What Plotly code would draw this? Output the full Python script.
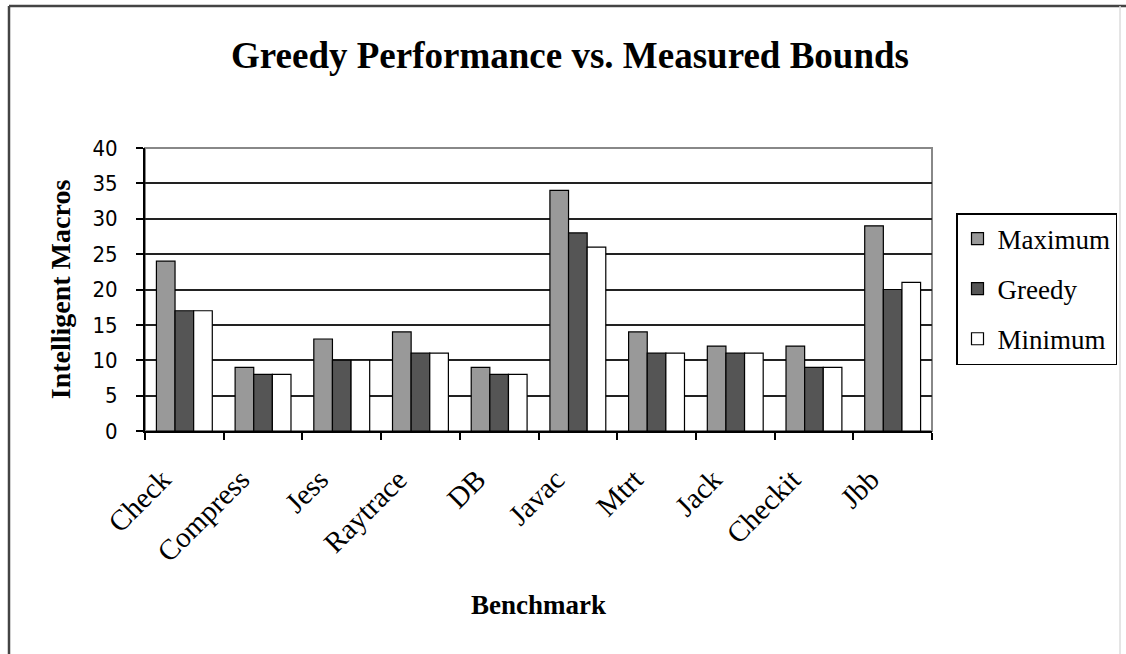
import plotly.graph_objects as go

categories = ["Check", "Compress", "Jess", "Raytrace", "DB", "Javac", "Mtrt", "Jack", "Checkit", "Jbb"]
maximum = [24, 9, 13, 14, 9, 34, 14, 12, 12, 29]
greedy = [17, 8, 10, 11, 8, 28, 11, 11, 9, 20]
minimum = [17, 8, 10, 11, 8, 26, 11, 11, 9, 21]
y_ticks = [0, 5, 10, 15, 20, 25, 30, 35, 40]

W, H = 1126, 654
L, R, T, B = 145, 194, 148, 223
pw, ph = W - L - R, H - T - B

serif = "Liberation Serif, Times New Roman, serif"
sans = "DejaVu Sans Condensed, DejaVu Sans, Arial, sans-serif"

fig = go.Figure()
series = [("Maximum", maximum, "#999999"), ("Greedy", greedy, "#555555"), ("Minimum", minimum, "#ffffff")]
for name, vals, col in series:
    fig.add_trace(go.Bar(
        x=categories, y=vals, name=name, legendgroup=name,
        marker=dict(color=col, line=dict(color="#000000", width=1.2)),
    ))

def px_x(p):
    return (p - L) / pw

def px_y(p):
    return (H - B - p) / ph

fig.update_layout(
    width=W, height=H,
    margin=dict(l=L, r=R, t=T, b=B, autoexpand=False),
    paper_bgcolor="white", plot_bgcolor="white",
    barmode="group", bargap=0.29, bargroupgap=0,
    title=dict(text="<b>Greedy Performance vs. Measured Bounds</b>",
               x=570 / W, xanchor="center", y=1 - 55 / H, yanchor="middle",
               font=dict(family=serif, size=37, color="#000000")),
    legend=dict(x=px_x(956), xanchor="left", y=px_y(213), yanchor="top",
                bordercolor="#000000", borderwidth=1.5, bgcolor="white",
                font=dict(family=serif, size=27, color="#000000"),
                tracegroupgap=12, itemwidth=30),
    xaxis=dict(
        showline=True, linecolor="#000000", linewidth=2,
        ticks="outside", tickson="boundaries", ticklen=7, tickcolor="#000000", tickwidth=2,
        tickangle=-45, tickfont=dict(family=serif, size=29, color="#000000"),
        ticklabelstandoff=18, ticklabelshift=-22,
        title=dict(text="<b>Benchmark</b>", font=dict(family=serif, size=27, color="#000000"), standoff=28),
        showgrid=False,
    ),
    yaxis=dict(
        range=[0, 40], tickvals=y_ticks, ticktext=[str(v) for v in y_ticks],
        showline=True, linecolor="#000000", linewidth=2,
        ticks="outside", ticklen=7, tickcolor="#000000", tickwidth=2,
        tickfont=dict(family=sans, size=22, color="#000000"),
        ticklabelstandoff=14,
        showgrid=True, gridcolor="#222222", gridwidth=2,
        title=dict(text="<b>Intelligent Macros</b>", font=dict(family=serif, size=28, color="#000000"), standoff=14),
        zeroline=False,
    ),
    shapes=[
        dict(type="rect", xref="paper", yref="paper", x0=0, x1=1, y0=0, y1=1,
             line=dict(color="#888888", width=2), layer="below"),
        dict(type="line", xref="paper", yref="paper", x0=px_x(9), x1=px_x(1126), y0=px_y(6), y1=px_y(6),
             line=dict(color="#444444", width=2.5)),
        dict(type="line", xref="paper", yref="paper", x0=px_x(9), x1=px_x(9), y0=px_y(6), y1=px_y(654),
             line=dict(color="#444444", width=2.5)),
        dict(type="line", xref="paper", yref="paper", x0=px_x(1120), x1=px_x(1120), y0=px_y(6), y1=px_y(654),
             line=dict(color="#dddddd", width=1.5)),
    ],
)

fig.write_html("out.html")
